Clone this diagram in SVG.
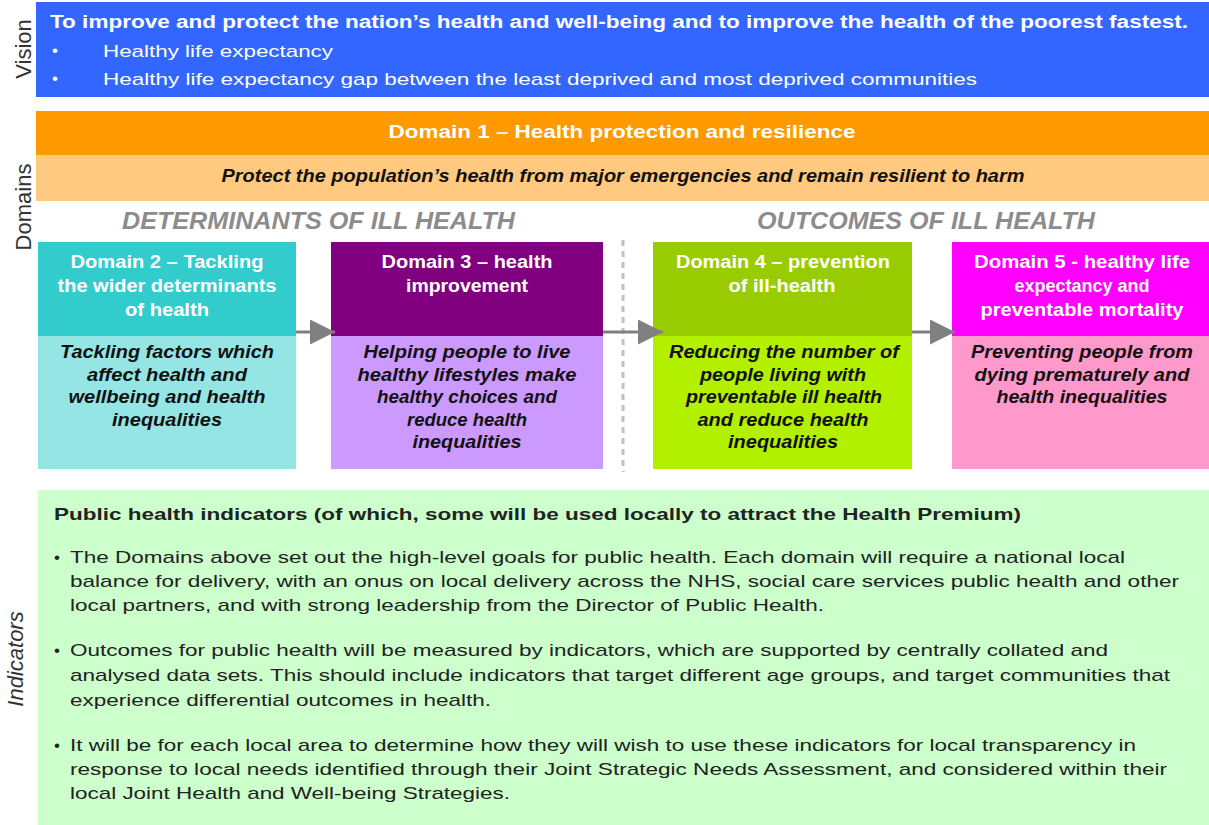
<svg xmlns="http://www.w3.org/2000/svg" width="1209" height="825" viewBox="0 0 1209 825">
  <defs>
    <style>
      .side { font-family: "Liberation Sans", Arial, sans-serif; font-size: 22px; fill: #333333; text-anchor: middle; }
      .sans { font-family: "Liberation Sans", Arial, sans-serif; }
      .hdr { font-size: 18px; font-weight: bold; fill: #ffffff; text-anchor: middle; }
      .body { font-size: 18px; font-weight: bold; font-style: italic; fill: #111111; text-anchor: middle; }
      .grp { font-size: 23px; font-weight: bold; font-style: italic; fill: #8c8c8c; }
      .vis { fill: #ffffff; }
      .ind { font-size: 17px; fill: #222222; }
      .conn { stroke: #808080; stroke-width: 3; fill: none; }
    </style>
    <marker id="arrowhead" viewBox="0 0 10 10" refX="10" refY="5" markerWidth="25" markerHeight="25" orient="auto" markerUnits="userSpaceOnUse">
      <path d="M0,0 L10,5 L0,10 z" fill="#808080"/>
    </marker>
  </defs>

  <rect width="1209" height="825" fill="#ffffff"/>

  <!-- side labels -->
  <text class="side" transform="translate(31,49) rotate(-90)">Vision</text>
  <text class="side" transform="translate(31,207) rotate(-90)">Domains</text>
  <text class="side" transform="translate(23,659) rotate(-90)" font-style="italic">Indicators</text>

  <!-- vision -->
  <g id="vision" class="sans vis">
    <rect x="36" y="2" width="1173" height="95" fill="#3366ff"/>
    <text x="50" y="28" font-size="18" font-weight="bold" textLength="1138" lengthAdjust="spacingAndGlyphs">To improve and protect the nation’s health and well-being and to improve the health of the poorest fastest.</text>
    <text x="52" y="56" font-size="17">•</text>
    <text x="103" y="57" font-size="17" textLength="230" lengthAdjust="spacingAndGlyphs">Healthy life expectancy</text>
    <text x="52" y="84" font-size="17">•</text>
    <text x="103" y="85" font-size="17" textLength="874" lengthAdjust="spacingAndGlyphs">Healthy life expectancy gap between the least deprived and most deprived communities</text>
  </g>

  <!-- domain 1 -->
  <g id="domain1" class="sans">
    <rect x="36" y="111" width="1173" height="44" fill="#ff9900"/>
    <rect x="36" y="155" width="1173" height="46" fill="#ffc97f"/>
    <text class="hdr" x="622" y="138" textLength="467" lengthAdjust="spacingAndGlyphs">Domain 1 – Health protection and resilience</text>
    <text class="body" x="623" y="182" textLength="803" lengthAdjust="spacingAndGlyphs">Protect the population’s health from major emergencies and remain resilient to harm</text>
  </g>

  <text class="sans grp" x="122" y="229" textLength="393" lengthAdjust="spacingAndGlyphs">DETERMINANTS OF ILL HEALTH</text>
  <text class="sans grp" x="757" y="229" textLength="338" lengthAdjust="spacingAndGlyphs">OUTCOMES OF ILL HEALTH</text>

  <line x1="623" y1="240" x2="623" y2="472" stroke="#c0c0c0" stroke-width="3" stroke-dasharray="6,5"/>

  <!-- domain 2 -->
  <g id="domain2" class="sans">
    <rect x="38" y="242" width="258" height="94" fill="#33cccc"/>
    <rect x="38" y="336" width="258" height="133" fill="#96e5e5"/>
    <text class="hdr" x="167" y="268" textLength="193" lengthAdjust="spacingAndGlyphs">Domain 2 – Tackling</text>
    <text class="hdr" x="167" y="292" textLength="219" lengthAdjust="spacingAndGlyphs">the wider determinants</text>
    <text class="hdr" x="167" y="316" textLength="84" lengthAdjust="spacingAndGlyphs">of health</text>
    <text class="body" x="167" y="358" textLength="214" lengthAdjust="spacingAndGlyphs">Tackling factors which</text>
    <text class="body" x="167" y="381" textLength="160" lengthAdjust="spacingAndGlyphs">affect health and</text>
    <text class="body" x="167" y="403" textLength="197" lengthAdjust="spacingAndGlyphs">wellbeing and health</text>
    <text class="body" x="167" y="426" textLength="110" lengthAdjust="spacingAndGlyphs">inequalities</text>
  </g>

  <!-- domain 3 -->
  <g id="domain3" class="sans">
    <rect x="331" y="242" width="272" height="94" fill="#800080"/>
    <rect x="331" y="336" width="272" height="133" fill="#cc99ff"/>
    <text class="hdr" x="467" y="268" textLength="171" lengthAdjust="spacingAndGlyphs">Domain 3 – health</text>
    <text class="hdr" x="467" y="292" textLength="122" lengthAdjust="spacingAndGlyphs">improvement</text>
    <text class="body" x="467" y="358" textLength="207" lengthAdjust="spacingAndGlyphs">Helping people to live</text>
    <text class="body" x="467" y="381" textLength="219" lengthAdjust="spacingAndGlyphs">healthy lifestyles make</text>
    <text class="body" x="467" y="403" textLength="180" lengthAdjust="spacingAndGlyphs">healthy choices and</text>
    <text class="body" x="467" y="426" textLength="120" lengthAdjust="spacingAndGlyphs">reduce health</text>
    <text class="body" x="467" y="448" textLength="109" lengthAdjust="spacingAndGlyphs">inequalities</text>
  </g>

  <!-- domain 4 -->
  <g id="domain4" class="sans">
    <rect x="653" y="242" width="259" height="94" fill="#99cc00"/>
    <rect x="653" y="336" width="259" height="133" fill="#b3f000"/>
    <text class="hdr" x="783" y="268" textLength="214" lengthAdjust="spacingAndGlyphs">Domain 4 – prevention</text>
    <text class="hdr" x="782" y="292" textLength="107" lengthAdjust="spacingAndGlyphs">of ill-health</text>
    <text class="body" x="784" y="358" textLength="230" lengthAdjust="spacingAndGlyphs">Reducing the number of</text>
    <text class="body" x="783" y="381" textLength="166" lengthAdjust="spacingAndGlyphs">people living with</text>
    <text class="body" x="784" y="403" textLength="196" lengthAdjust="spacingAndGlyphs">preventable ill health</text>
    <text class="body" x="783" y="426" textLength="171" lengthAdjust="spacingAndGlyphs">and reduce health</text>
    <text class="body" x="783" y="448" textLength="110" lengthAdjust="spacingAndGlyphs">inequalities</text>
  </g>

  <!-- domain 5 -->
  <g id="domain5" class="sans">
    <rect x="952" y="242" width="257" height="94" fill="#ff00ff"/>
    <rect x="952" y="336" width="257" height="133" fill="#ff99cc"/>
    <text class="hdr" x="1082" y="268" textLength="216" lengthAdjust="spacingAndGlyphs">Domain 5 -  healthy life</text>
    <text class="hdr" x="1082" y="292" textLength="135" lengthAdjust="spacingAndGlyphs">expectancy and</text>
    <text class="hdr" x="1082" y="316" textLength="203" lengthAdjust="spacingAndGlyphs">preventable mortality</text>
    <text class="body" x="1082" y="358" textLength="222" lengthAdjust="spacingAndGlyphs">Preventing people from</text>
    <text class="body" x="1082" y="381" textLength="215" lengthAdjust="spacingAndGlyphs">dying prematurely and</text>
    <text class="body" x="1082" y="403" textLength="171" lengthAdjust="spacingAndGlyphs">health inequalities</text>
  </g>

  <!-- connectors between domains -->
  <g id="connectors">
    <line class="conn" x1="296" y1="332" x2="335" y2="332" marker-end="url(#arrowhead)"/>
    <line class="conn" x1="603" y1="332" x2="663" y2="332" marker-end="url(#arrowhead)"/>
    <line class="conn" x1="912" y1="332" x2="955" y2="332" marker-end="url(#arrowhead)"/>
  </g>

  <!-- indicators -->
  <g id="indicators" class="sans ind">
    <rect x="38" y="490" width="1171" height="335" fill="#ccffcc"/>
    <text x="54" y="520" font-weight="bold" textLength="967" lengthAdjust="spacingAndGlyphs">Public health indicators (of which, some will be used locally to attract the Health Premium)</text>
    <text x="54" y="563">•</text>
    <text x="70" y="563" textLength="1055" lengthAdjust="spacingAndGlyphs">The Domains above set out the high-level goals for public health. Each domain will require a national local</text>
    <text x="70" y="587" textLength="1109" lengthAdjust="spacingAndGlyphs">balance for delivery, with an onus on local delivery across the NHS, social care services public health and other</text>
    <text x="70" y="611" textLength="754" lengthAdjust="spacingAndGlyphs">local partners, and with strong leadership from the Director of Public Health.</text>
    <text x="54" y="656">•</text>
    <text x="70" y="656" textLength="1038" lengthAdjust="spacingAndGlyphs">Outcomes for public health will be measured by indicators, which are supported by centrally collated and</text>
    <text x="70" y="681" textLength="1100" lengthAdjust="spacingAndGlyphs">analysed data sets. This should include indicators that target different age groups, and target communities that</text>
    <text x="70" y="706" textLength="421" lengthAdjust="spacingAndGlyphs">experience differential outcomes in health.</text>
    <text x="54" y="751">•</text>
    <text x="70" y="751" textLength="1066" lengthAdjust="spacingAndGlyphs">It will be for each local area to determine how they will wish to use these indicators for local transparency in</text>
    <text x="70" y="775" textLength="1097" lengthAdjust="spacingAndGlyphs">response to local needs identified through their Joint Strategic Needs Assessment, and considered within their</text>
    <text x="70" y="799" textLength="440" lengthAdjust="spacingAndGlyphs">local Joint Health and Well-being Strategies.</text>
  </g>
</svg>
